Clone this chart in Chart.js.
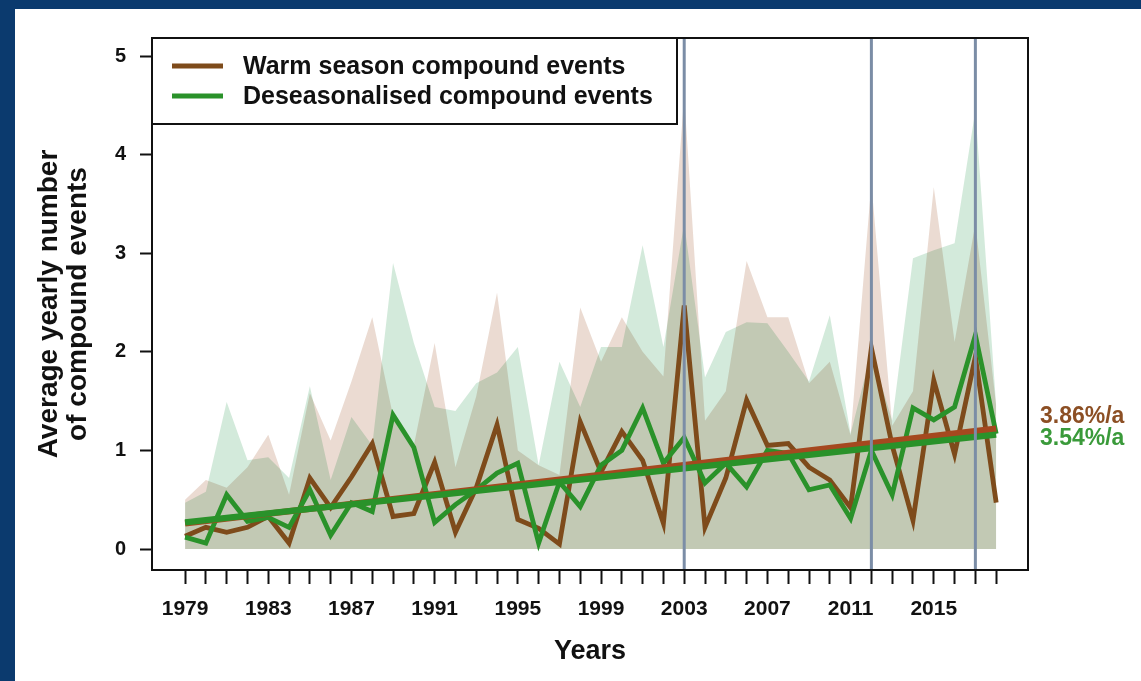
<!DOCTYPE html>
<html><head><meta charset="utf-8">
<script src="https://cdn.jsdelivr.net/npm/chart.js@4.4.0/dist/chart.umd.min.js"></script>
<style>
html,body{margin:0;padding:0;background:#0b3a6e;width:1141px;height:681px;overflow:hidden}
#wrap{position:absolute;left:15px;top:9px;width:1126px;height:672px;background:#fff}
canvas{display:block}
</style></head><body>
<div id="wrap"><canvas id="c" width="1126" height="672"></canvas></div>
<script>
// ---------------- data ----------------
const years = [1979,1980,1981,1982,1983,1984,1985,1986,1987,1988,1989,1990,1991,1992,1993,1994,1995,1996,1997,1998,
               1999,2000,2001,2002,2003,2004,2005,2006,2007,2008,2009,2010,2011,2012,2013,2014,2015,2016,2017,2018];
const warmMean = [0.13,0.22,0.17,0.22,0.33,0.06,0.72,0.42,0.73,1.07,0.33,0.36,0.88,0.17,0.62,1.26,0.30,0.21,0.05,1.29,
                  0.78,1.19,0.90,0.26,2.47,0.22,0.72,1.51,1.05,1.07,0.83,0.70,0.42,2.04,1.05,0.29,1.71,0.96,1.95,0.47];
const deseasMean = [0.12,0.06,0.55,0.28,0.32,0.22,0.60,0.14,0.47,0.38,1.36,1.03,0.27,0.45,0.60,0.77,0.87,0.06,0.68,0.43,
                    0.85,1.00,1.43,0.87,1.13,0.67,0.87,0.63,1.00,0.97,0.60,0.65,0.31,1.00,0.55,1.43,1.31,1.44,2.17,1.17];
const warmUpper = [0.50,0.70,0.62,0.83,1.16,0.55,1.58,1.10,1.70,2.35,1.35,1.05,2.09,0.83,1.55,2.60,1.00,0.85,0.75,2.45,
                   1.90,2.35,2.00,1.75,4.60,1.30,1.60,2.92,2.35,2.35,1.68,1.90,1.15,3.71,1.25,1.60,3.67,2.10,3.30,1.45];
const deseasUpper = [0.47,0.58,1.49,0.90,0.93,0.72,1.65,0.70,1.34,1.05,2.90,2.09,1.44,1.40,1.68,1.79,2.05,0.85,1.90,1.44,
                     2.05,2.05,3.08,2.05,3.30,1.74,2.20,2.30,2.29,2.00,1.70,2.37,1.17,2.00,1.30,2.95,3.03,3.10,4.45,1.45];
const trendYears = [1979, 2018];
const warmTrend = [0.26, 1.22];
const deseasTrend = [0.27, 1.16];
const eventYears = [2003, 2012, 2017];
const xLabelYears = [1979,1983,1987,1991,1995,1999,2003,2007,2011,2015];
const yTicks = [0,1,2,3,4,5];
const seriesNames = ['Warm season compound events','Deseasonalised compound events'];
const trendLabels = ['3.86%/a','3.54%/a'];

// ---------------- styles ----------------
const FONT = "'Liberation Sans', Arial, Helvetica, sans-serif";
const BROWN = '#7e4b1b', GREEN = '#2a922a', BROWN_TREND = '#a5481f';
const pts = (xs, ys) => xs.map((x, i) => ({x, y: ys[i]}));

const decor = {
  id: 'decor',
  beforeDraw(chart) {
    const c = chart.ctx;
    c.save(); c.globalCompositeOperation = 'source-over';
    c.fillStyle = '#fff'; c.fillRect(0, 0, chart.width, chart.height);
    c.restore();
    c.globalCompositeOperation = 'multiply';
  },
  beforeDatasetDraw(chart, args) {
    // keep multiply blending while the range areas are painted; normal drawing for lines
    const ds = chart.data.datasets[args.index];
    chart.ctx.globalCompositeOperation = ds.fill ? 'multiply' : 'source-over';
  },
  afterDatasetsDraw(chart) {
    const c = chart.ctx, ca = chart.chartArea, xs = chart.scales.x, ys = chart.scales.y;
    c.save();
    c.globalCompositeOperation = 'source-over';
    // event year lines
    c.strokeStyle = '#7b8da6'; c.lineWidth = 3;
    eventYears.forEach(yr => {
      const px = xs.getPixelForValue(yr);
      c.beginPath(); c.moveTo(px, ca.top); c.lineTo(px, ca.bottom); c.stroke();
    });
    // plot box
    c.strokeStyle = '#111'; c.lineWidth = 2;
    c.strokeRect(ca.left, ca.top, ca.right - ca.left, ca.bottom - ca.top);
    // legend
    const lw = 525, lh = 86;
    c.fillStyle = '#fff'; c.fillRect(ca.left, ca.top, lw, lh);
    c.strokeRect(ca.left, ca.top, lw, lh);
    const rows = [ca.top + 28, ca.top + 58];
    const cols = [BROWN, GREEN];
    c.font = "bold 25px " + FONT; c.textBaseline = 'middle'; c.textAlign = 'left';
    rows.forEach((ry, i) => {
      c.strokeStyle = cols[i]; c.lineWidth = 5;
      c.beginPath(); c.moveTo(ca.left + 20, ry); c.lineTo(ca.left + 71, ry); c.stroke();
      c.fillStyle = '#111';
      c.fillText(seriesNames[i], ca.left + 91, ry + 1);
    });
    // trend rate labels
    c.font = "bold 23px " + FONT;
    c.fillStyle = '#8c4f24';
    c.fillText(trendLabels[0], ca.right + 12, ys.getPixelForValue(warmTrend[1]) - 12);
    c.fillStyle = '#3a9a3a';
    c.fillText(trendLabels[1], ca.right + 12, ys.getPixelForValue(deseasTrend[1]) + 4);
    c.restore();
  },
  afterDraw(chart) { chart.ctx.globalCompositeOperation = 'source-over'; }
};

new Chart(document.getElementById('c'), {
  type: 'line',
  data: {
    datasets: [
      {label: 'Deseasonalised trend', data: pts(trendYears, deseasTrend), borderColor: GREEN, borderWidth: 6.5, order: 0},
      {label: 'Warm season trend', data: pts(trendYears, warmTrend), borderColor: BROWN_TREND, borderWidth: 6.5, order: 1},
      {label: seriesNames[1], data: pts(years, deseasMean), borderColor: GREEN, borderWidth: 4.8, order: 2},
      {label: seriesNames[0], data: pts(years, warmMean), borderColor: BROWN, borderWidth: 4.8, order: 3},
      {label: 'Deseasonalised range', data: pts(years, deseasUpper), borderColor: 'transparent', borderWidth: 0,
       backgroundColor: '#d3eadb', fill: 'origin', order: 4},
      {label: 'Warm season range', data: pts(years, warmUpper), borderColor: 'transparent', borderWidth: 0,
       backgroundColor: '#ebdbd2', fill: 'origin', order: 5}
    ]
  },
  options: {
    responsive: false,
    animation: false,
    devicePixelRatio: 1,
    elements: {point: {radius: 0}, line: {tension: 0}},
    layout: {padding: {top: 29, right: 113, left: 0, bottom: 0}},
    plugins: {legend: {display: false}, tooltip: {enabled: false}, filler: {drawTime: 'beforeDatasetDraw'}},
    scales: {
      x: {
        type: 'linear', min: 1977.41, max: 2019.53,
        afterBuildTicks(ax) { ax.ticks = years.map(v => ({value: v})); },
        afterFit(ax) { ax.height = 111; },
        ticks: {autoSkip: false, maxRotation: 0, minRotation: 0, padding: 13, color: '#111',
                font: {family: FONT, size: 21, weight: 'bold'},
                callback: v => xLabelYears.includes(v) ? String(v) : ''},
        grid: {drawOnChartArea: false, drawTicks: true, tickLength: 14, tickColor: '#111', tickWidth: 2},
        border: {display: false},
        title: {display: true, text: 'Years', color: '#111', font: {family: FONT, size: 27, weight: 'bold'},
                padding: {top: 0, bottom: 13}}
      },
      y: {
        min: -0.213, max: 5.183,
        afterBuildTicks(ax) { ax.ticks = yTicks.map(v => ({value: v})); },
        afterFit(ax) { ax.width = 137; },
        ticks: {padding: 14, color: '#111', font: {family: FONT, size: 20, weight: 'bold'}},
        grid: {drawOnChartArea: false, drawTicks: true, tickLength: 12, tickColor: '#111', tickWidth: 2},
        border: {display: false},
        title: {display: true, text: ['Average yearly number', 'of compound events'], color: '#111',
                font: {family: FONT, size: 28, weight: 'bold', lineHeight: 1.02}, padding: {top: 20, bottom: 0}}
      }
    }
  },
  plugins: [decor]
});
</script>
</body></html>
